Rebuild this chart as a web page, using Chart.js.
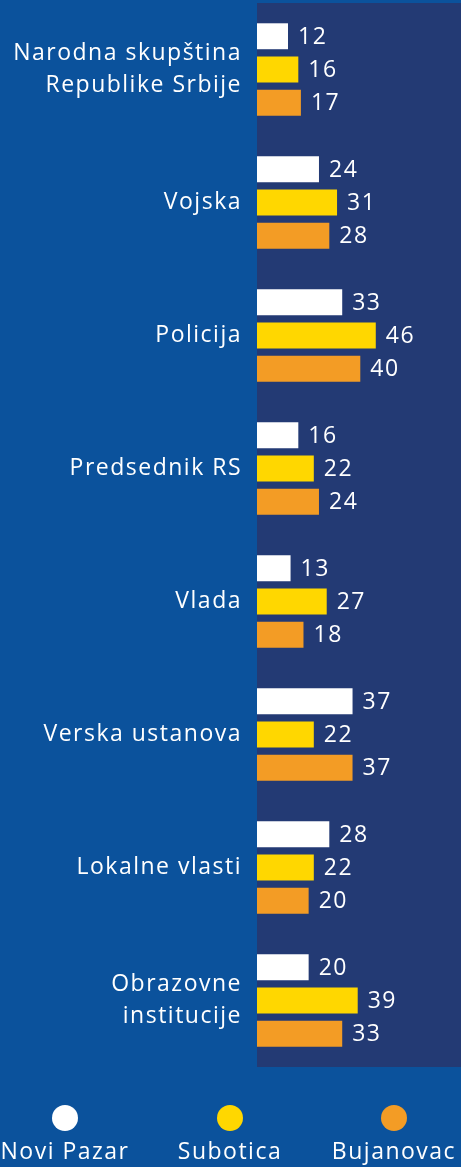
<!DOCTYPE html>
<html>
<head>
<meta charset="utf-8">
<script src="https://cdn.jsdelivr.net/npm/chart.js@4"></script>
<style>
  html, body { margin: 0; padding: 0; background: #0b529c; }
  #wrap { width: 461px; height: 1167px; position: relative; }
</style>
</head>
<body>
<div id="wrap"><canvas id="trustChart"></canvas></div>
<script>
const categories = [
    ["Narodna skupština", "Republike Srbije"],
    "Vojska",
    "Policija",
    "Predsednik RS",
    "Vlada",
    "Verska ustanova",
    "Lokalne vlasti",
    ["Obrazovne", "institucije"]
];
const noviPazar = [12, 24, 33, 16, 13, 37, 28, 20];
const subotica = [16, 31, 46, 22, 27, 22, 22, 39];
const bujanovac = [17, 28, 40, 24, 18, 37, 20, 33];
const seriesNames = ["Novi Pazar", "Subotica", "Bujanovac"];
const seriesColors = ["#ffffff", "#ffd700", "#f39c25"];

const FONT = "'Open Sans', sans-serif";
const SPACING = "1.5px";

const panelBg = {
    id: "panelBg",
    beforeDraw(chart) {
        const { ctx, chartArea: a } = chart;
        ctx.letterSpacing = SPACING;
        ctx.save();
        ctx.fillStyle = "#233a74";
        ctx.fillRect(a.left, a.top, a.right - a.left, a.bottom - a.top);
        ctx.restore();
    }
};

const valueLabels = {
    id: "valueLabels",
    afterDatasetsDraw(chart) {
        const ctx = chart.ctx;
        ctx.save();
        ctx.letterSpacing = SPACING;
        ctx.fillStyle = "#ffffff";
        ctx.font = "500 23px " + FONT;
        ctx.textBaseline = "middle";
        chart.data.datasets.forEach((ds, i) => {
            chart.getDatasetMeta(i).data.forEach((bar, j) => {
                ctx.fillText(ds.data[j], bar.x + 10, bar.y + 1);
            });
        });
        ctx.restore();
    }
};

const bottomLegend = {
    id: "bottomLegend",
    afterDraw(chart) {
        const ctx = chart.ctx;
        const xs = [65, 230, 394];
        ctx.save();
        ctx.letterSpacing = SPACING;
        ctx.font = "500 23px " + FONT;
        ctx.textAlign = "center";
        ctx.textBaseline = "middle";
        seriesNames.forEach((name, i) => {
            ctx.fillStyle = seriesColors[i];
            ctx.beginPath();
            ctx.arc(xs[i], 1118, 13, 0, Math.PI * 2);
            ctx.fill();
            ctx.fillStyle = "#ffffff";
            ctx.fillText(name, xs[i], 1152);
        });
        ctx.restore();
    }
};

new Chart(document.getElementById("trustChart"), {
    type: "bar",
    data: {
        labels: categories,
        datasets: seriesNames.map((name, i) => ({
            label: name,
            data: [noviPazar, subotica, bujanovac][i],
            backgroundColor: seriesColors[i],
            categoryPercentage: 0.75,
            barPercentage: 0.78
        }))
    },
    options: {
        indexAxis: "y",
        responsive: true,
        maintainAspectRatio: false,
        animation: false,
        layout: { padding: { top: 3, bottom: 100, right: 0, left: 0 } },
        plugins: { legend: { display: false }, tooltip: { enabled: false } },
        scales: {
            x: { display: false, min: 0, max: 79 },
            y: {
                grid: { display: false },
                border: { display: false },
                ticks: {
                    color: "#ffffff",
                    padding: 7,
                    font: { family: FONT, size: 23, weight: "500", lineHeight: 1.4 }
                },
                afterFit(scale) {
                    scale.width = 257;
                    scale.paddingTop = 0;
                    scale.paddingBottom = 0;
                }
            }
        }
    },
    plugins: [panelBg, valueLabels, bottomLegend]
});
</script>
</body>
</html>
